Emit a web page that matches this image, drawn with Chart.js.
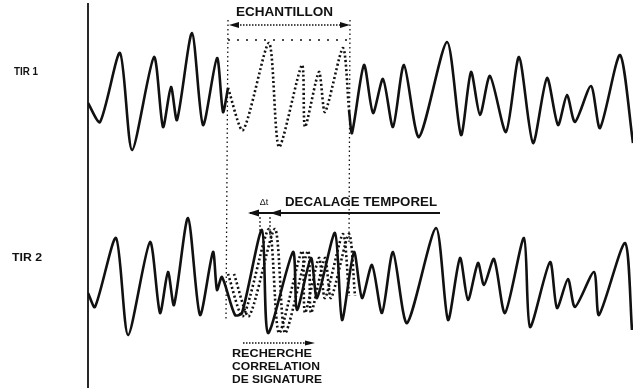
<!DOCTYPE html>
<html>
<head>
<meta charset="utf-8">
<script src="https://cdn.jsdelivr.net/npm/chart.js@4.4.0/dist/chart.umd.min.js"></script>
<style>
  html, body { margin: 0; padding: 0; background: #fff; }
  canvas { display: block; }
</style>
</head>
<body>
<canvas id="chart" width="633" height="391"></canvas>
<script>
// time (arbitrary units) and amplitude
const tir1TimeA = [0, 12, 32, 44, 66, 75, 83, 89, 104, 115, 129, 135, 140]
const tir1ValA = [-3, -22, 47, -50, 43, -27, 13, -20, 67, -25, 42, -12, 12]

// the "echantillon" (sample) taken from TIR 1
const sampleTime = [140, 155, 181, 191, 214, 217, 231, 237, 255, 261]
const sampleVal = [12, -30, 57, -47, 35, -27, 28, -12, 52, -10]

const tir1TimeB = [261, 264, 276, 285, 295, 305, 316, 331, 359, 373, 383, 392, 402, 418, 431, 445, 459, 470, 479, 487, 503, 512, 532, 545]
const tir1ValB = [-10, -33, 35, -13, 21, -27, 35, -37, 58, -35, 28, -15, 24, -32, 43, -43, 22, -25, 5, -22, 14, -28, 45, -43]

const tir2Time = [0, 7, 28, 40, 62, 72, 80, 86, 100, 112, 125, 129, 134, 147, 154, 174, 180, 205, 209, 223, 229, 247, 254, 266, 274, 284, 294, 305, 319, 348, 360, 372, 380, 390, 396, 406, 417, 436, 442, 462, 469, 480, 487, 506, 511, 537, 544]
const tir2Val = [-7, -21, 48, -49, 44, -27, 14, -19, 68, -29, 34, -4, 9, -29, -27, 56, -47, 34, -24, 28, -12, 53, -34, 34, -12, 21, -27, 34, -37, 58, -34, 28, -14, 23, 1, 27, -27, 48, -41, 24, -22, 7, -21, 14, -29, 43, -44]

// trial delays of the sample laid over TIR 2
const searchShifts = [0, 6]

const seriesLabels = ['TIR 1', 'TIR 2']

const ink = '#111'

const toPoints = (xs, ys, dt = 0) => xs.map((x, i) => ({ x: x + dt, y: ys[i] }))

function trace(points, axis, dotted) {
  return {
    data: points,
    yAxisID: axis,
    borderColor: ink,
    borderWidth: dotted ? 2.6 : 2.6,
    borderDash: dotted ? [2, 2.5] : [],
    pointRadius: 0,
    tension: 0.25,
    fill: false
  }
}

function arrowHead(ctx, tipX, y, dir, len, half) {
  ctx.beginPath()
  ctx.moveTo(tipX, y)
  ctx.lineTo(tipX - dir * len, y - half)
  ctx.lineTo(tipX - dir * len, y + half)
  ctx.closePath()
  ctx.fill()
}

function fitText(ctx, text, left, cy, width, size) {
  ctx.save()
  ctx.font = 'bold ' + size + 'px "Liberation Sans", Arial, sans-serif'
  ctx.textBaseline = 'middle'
  ctx.textAlign = 'left'
  const w = ctx.measureText(text).width
  ctx.translate(left, cy)
  ctx.scale(width / w, 1)
  ctx.fillText(text, 0, 0)
  ctx.restore()
}

const annotations = {
  id: 'annotations',
  afterDatasetsDraw(chart) {
    const { ctx, scales: { x, y1, y2 } } = chart
    const px = t => x.getPixelForValue(t)
    const top = a => y1.getPixelForValue(a)
    const bot = a => y2.getPixelForValue(a)
    ctx.save()
    ctx.strokeStyle = ink
    ctx.fillStyle = ink

    // time axis origin line
    ctx.lineWidth = 1.8
    ctx.beginPath()
    ctx.moveTo(px(0), top(97))
    ctx.lineTo(px(0), bot(-102))
    ctx.stroke()

    // sample window
    const w0 = 140, w1 = 262
    ctx.lineWidth = 1.3
    ctx.setLineDash([1.5, 3])
    ctx.beginPath()
    ctx.moveTo(px(w0), top(80)); ctx.lineTo(px(w0 - 2), bot(-34))
    ctx.moveTo(px(w1), top(80)); ctx.lineTo(px(w1 - 1), bot(41))
    ctx.stroke()
    ctx.setLineDash([2, 7])
    ctx.beginPath()
    ctx.moveTo(px(w0), top(60)); ctx.lineTo(px(w1), top(60))
    ctx.stroke()

    // ECHANTILLON arrow
    ctx.lineWidth = 1.5
    ctx.setLineDash([1.5, 1.5])
    ctx.beginPath()
    ctx.moveTo(px(w0 + 6), top(75)); ctx.lineTo(px(w1 - 6), top(75))
    ctx.stroke()
    ctx.setLineDash([])
    arrowHead(ctx, px(w0 + 1), top(75), -1, 10, 3)
    arrowHead(ctx, px(w1), top(75), 1, 10, 3)
    fitText(ctx, 'ECHANTILLON', px(148), top(87), 97, 12)

    // DECALAGE TEMPOREL arrow
    ctx.lineWidth = 2
    ctx.beginPath()
    ctx.moveTo(px(162), bot(73)); ctx.lineTo(px(352), bot(73))
    ctx.stroke()
    arrowHead(ctx, px(160), bot(73), -1, 11, 3.5)
    arrowHead(ctx, px(182), bot(73), -1, 11, 3.5)
    fitText(ctx, 'DECALAGE TEMPOREL', px(197), bot(83), 152, 12)
    ctx.font = '9px "Liberation Sans", Arial, sans-serif'
    ctx.textAlign = 'center'
    ctx.textBaseline = 'middle'
    ctx.fillText('Δt', px(176), bot(83))

    // delay markers
    ctx.lineWidth = 1.2
    ctx.setLineDash([2, 2])
    ctx.beginPath()
    ctx.moveTo(px(172), bot(69)); ctx.lineTo(px(172), bot(51))
    ctx.moveTo(px(182), bot(69)); ctx.lineTo(px(182), bot(51))
    ctx.stroke()

    // RECHERCHE arrow
    ctx.lineWidth = 1.4
    ctx.setLineDash([1.5, 1.5])
    ctx.beginPath()
    ctx.moveTo(px(155), bot(-57)); ctx.lineTo(px(218), bot(-57))
    ctx.stroke()
    ctx.setLineDash([])
    arrowHead(ctx, px(227), bot(-57), 1, 10, 2.5)
    fitText(ctx, 'RECHERCHE', px(144), bot(-68), 80, 10)
    fitText(ctx, 'CORRELATION', px(144), bot(-81), 88, 10)
    fitText(ctx, 'DE SIGNATURE', px(144), bot(-94), 90, 10)

    // trace labels
    fitText(ctx, seriesLabels[0], px(-74), top(28), 24, 11)
    fitText(ctx, seriesLabels[1], px(-76), bot(28), 30, 11)
    ctx.restore()
  }
}

const datasets = [
  trace(toPoints(tir1TimeA, tir1ValA), 'y1', false),
  trace(toPoints(sampleTime, sampleVal), 'y1', true),
  trace(toPoints(tir1TimeB, tir1ValB), 'y1', false),
  trace(toPoints(tir2Time, tir2Val), 'y2', false)
]
searchShifts.forEach(dt => datasets.push(trace(toPoints(sampleTime, sampleVal, dt), 'y2', true)))

new Chart(document.getElementById('chart').getContext('2d'), {
  type: 'line',
  data: { datasets: datasets },
  options: {
    responsive: false,
    animation: false,
    layout: { padding: { left: 88, right: 0, top: 0, bottom: 0 } },
    plugins: { legend: { display: false }, tooltip: { enabled: false } },
    scales: {
      x: { type: 'linear', min: 0, max: 545, display: false },
      // stacked axes: the first one listed sits at the bottom
      y2: { type: 'linear', min: -105, max: 90.5, display: false, stack: 'tir', stackWeight: 1 },
      y1: { type: 'linear', min: -95.5, max: 100, display: false, stack: 'tir', stackWeight: 1 }
    }
  },
  plugins: [annotations]
})
</script>
</body>
</html>
